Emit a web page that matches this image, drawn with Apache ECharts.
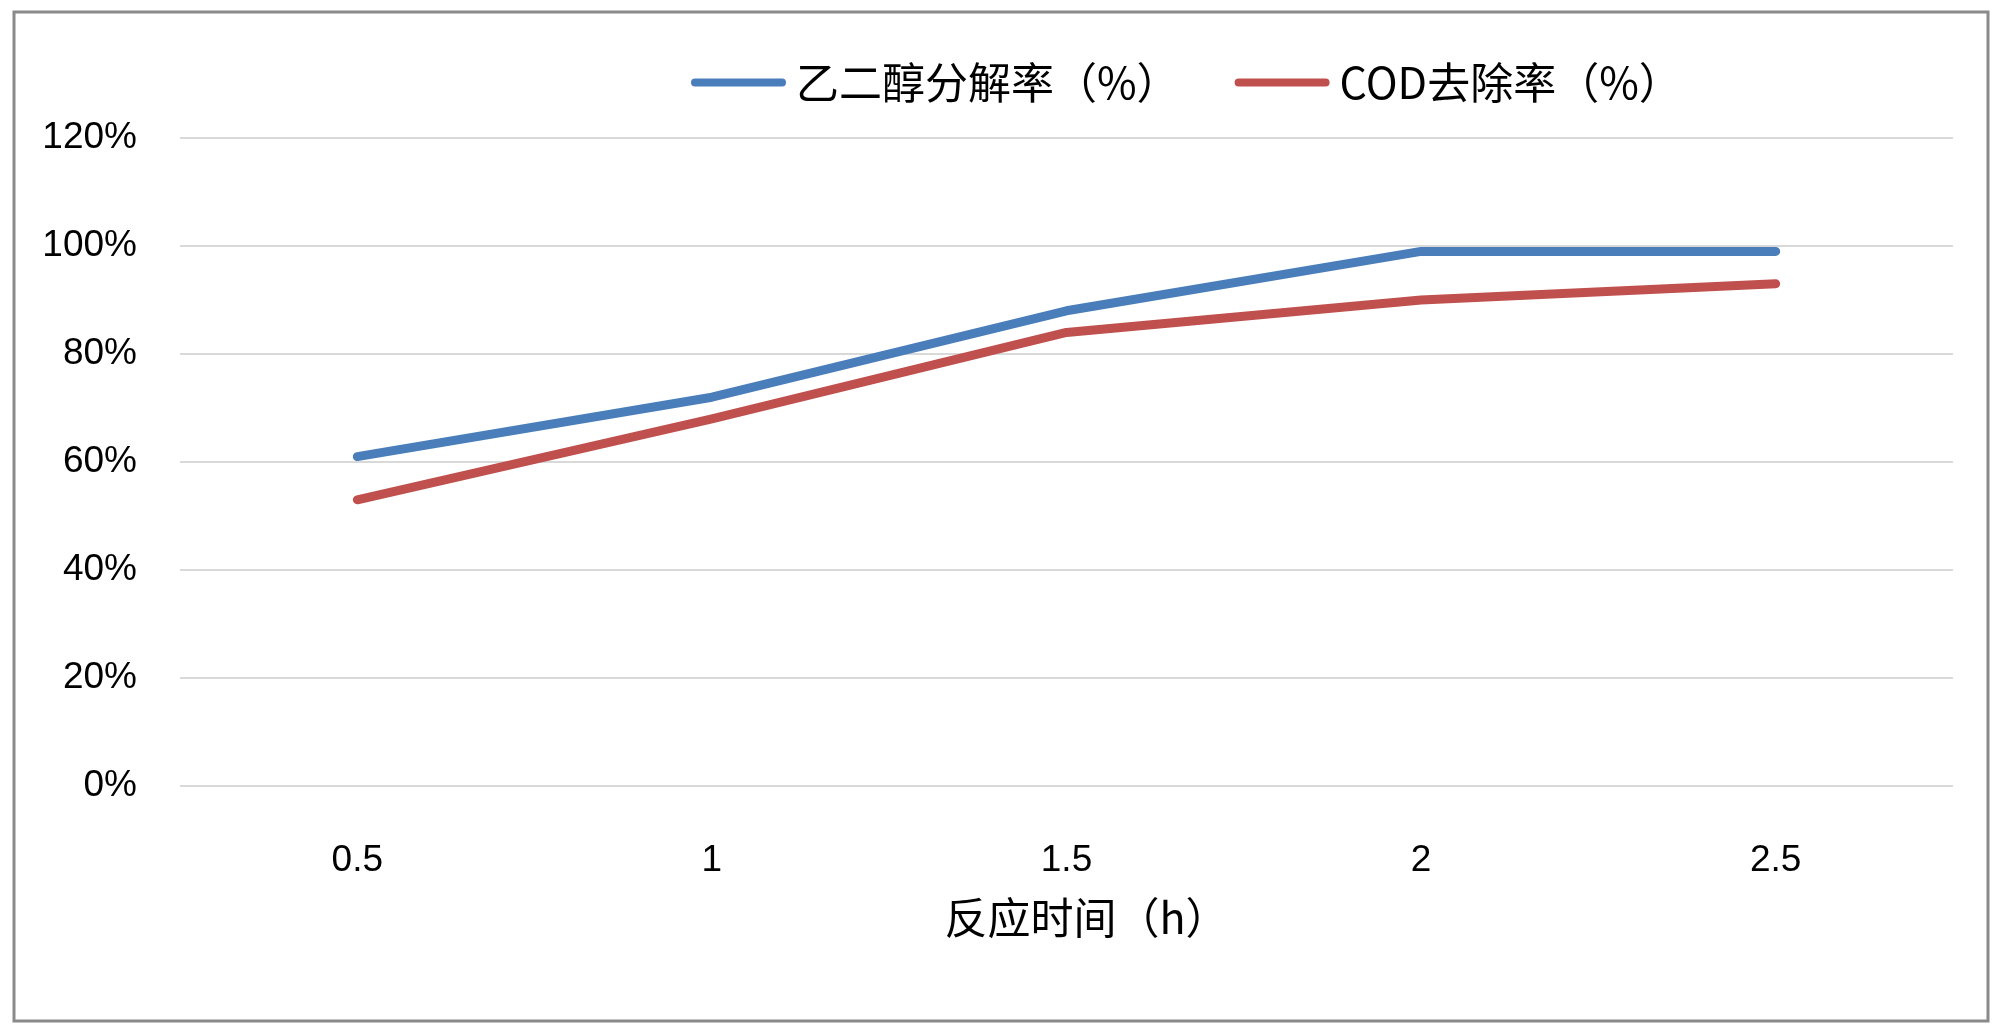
<!DOCTYPE html>
<html><head><meta charset="utf-8">
<script src="https://cdn.jsdelivr.net/npm/echarts@6/dist/echarts.min.js"></script>
<style>html,body{margin:0;padding:0;background:#fff}#c{width:2000px;height:1033px}</style>
</head><body><div id="c"></div>
<script>
const categories = ['0.5', '1', '1.5', '2', '2.5'];
const glycolDecomp = [61, 72, 88, 99, 99];
const codRemoval = [53, 68, 84, 90, 93];
const seriesNames = ['乙二醇分解率（%）', 'COD去除率（%）'];
const xTitle = '反应时间（h）';

const chart = echarts.init(document.getElementById('c'), null, {renderer: 'canvas'});
const cap = 'path://M4,0 L91,0 A4,4 0 0 1 91,8 L4,8 A4,4 0 0 1 4,0 Z';
chart.setOption({
  animation: false,
  backgroundColor: '#fff',
  graphic: [{
    type: 'rect', shape: {x: 14, y: 12, width: 1974, height: 1009},
    style: {fill: 'none', stroke: '#8a8a8a', lineWidth: 3}, silent: true
  }],
  legend: {
    left: 686, top: 56, itemWidth: 95, itemHeight: 9, itemGap: 55,
    icon: cap,
    textStyle: {fontFamily: '"Noto Sans CJK SC"', fontSize: 43, color: '#000', padding: [0, 0, 0, 5]},
    data: seriesNames
  },
  grid: {left: 180, right: 47, top: 138, bottom: 247, containLabel: false},
  xAxis: {
    type: 'category', data: categories, boundaryGap: true,
    axisLine: {show: false}, axisTick: {show: false},
    axisLabel: {fontFamily: '"Liberation Sans", Arial, sans-serif', fontSize: 37, color: '#000', margin: 56},
    name: xTitle, nameLocation: 'middle', nameGap: 110,
    nameTextStyle: {fontFamily: '"Noto Sans CJK SC"', fontSize: 43, color: '#000', padding: [0, 0, 0, 40]}
  },
  yAxis: {
    type: 'value', min: 0, max: 120, interval: 20,
    axisLine: {show: false}, axisTick: {show: false},
    splitLine: {lineStyle: {color: '#d9d9d9', width: 2}},
    axisLabel: {formatter: '{value}%', fontFamily: '"Liberation Sans", Arial, sans-serif', fontSize: 37, color: '#000', margin: 43}
  },
  series: [
    {name: seriesNames[0], type: 'line', data: glycolDecomp, symbol: 'none',
     lineStyle: {color: '#4a7ebb', width: 9, cap: 'round', join: 'round'}, itemStyle: {color: '#4a7ebb'}},
    {name: seriesNames[1], type: 'line', data: codRemoval, symbol: 'none',
     lineStyle: {color: '#c0504d', width: 9, cap: 'round', join: 'round'}, itemStyle: {color: '#c0504d'}}
  ]
});
</script></body></html>
